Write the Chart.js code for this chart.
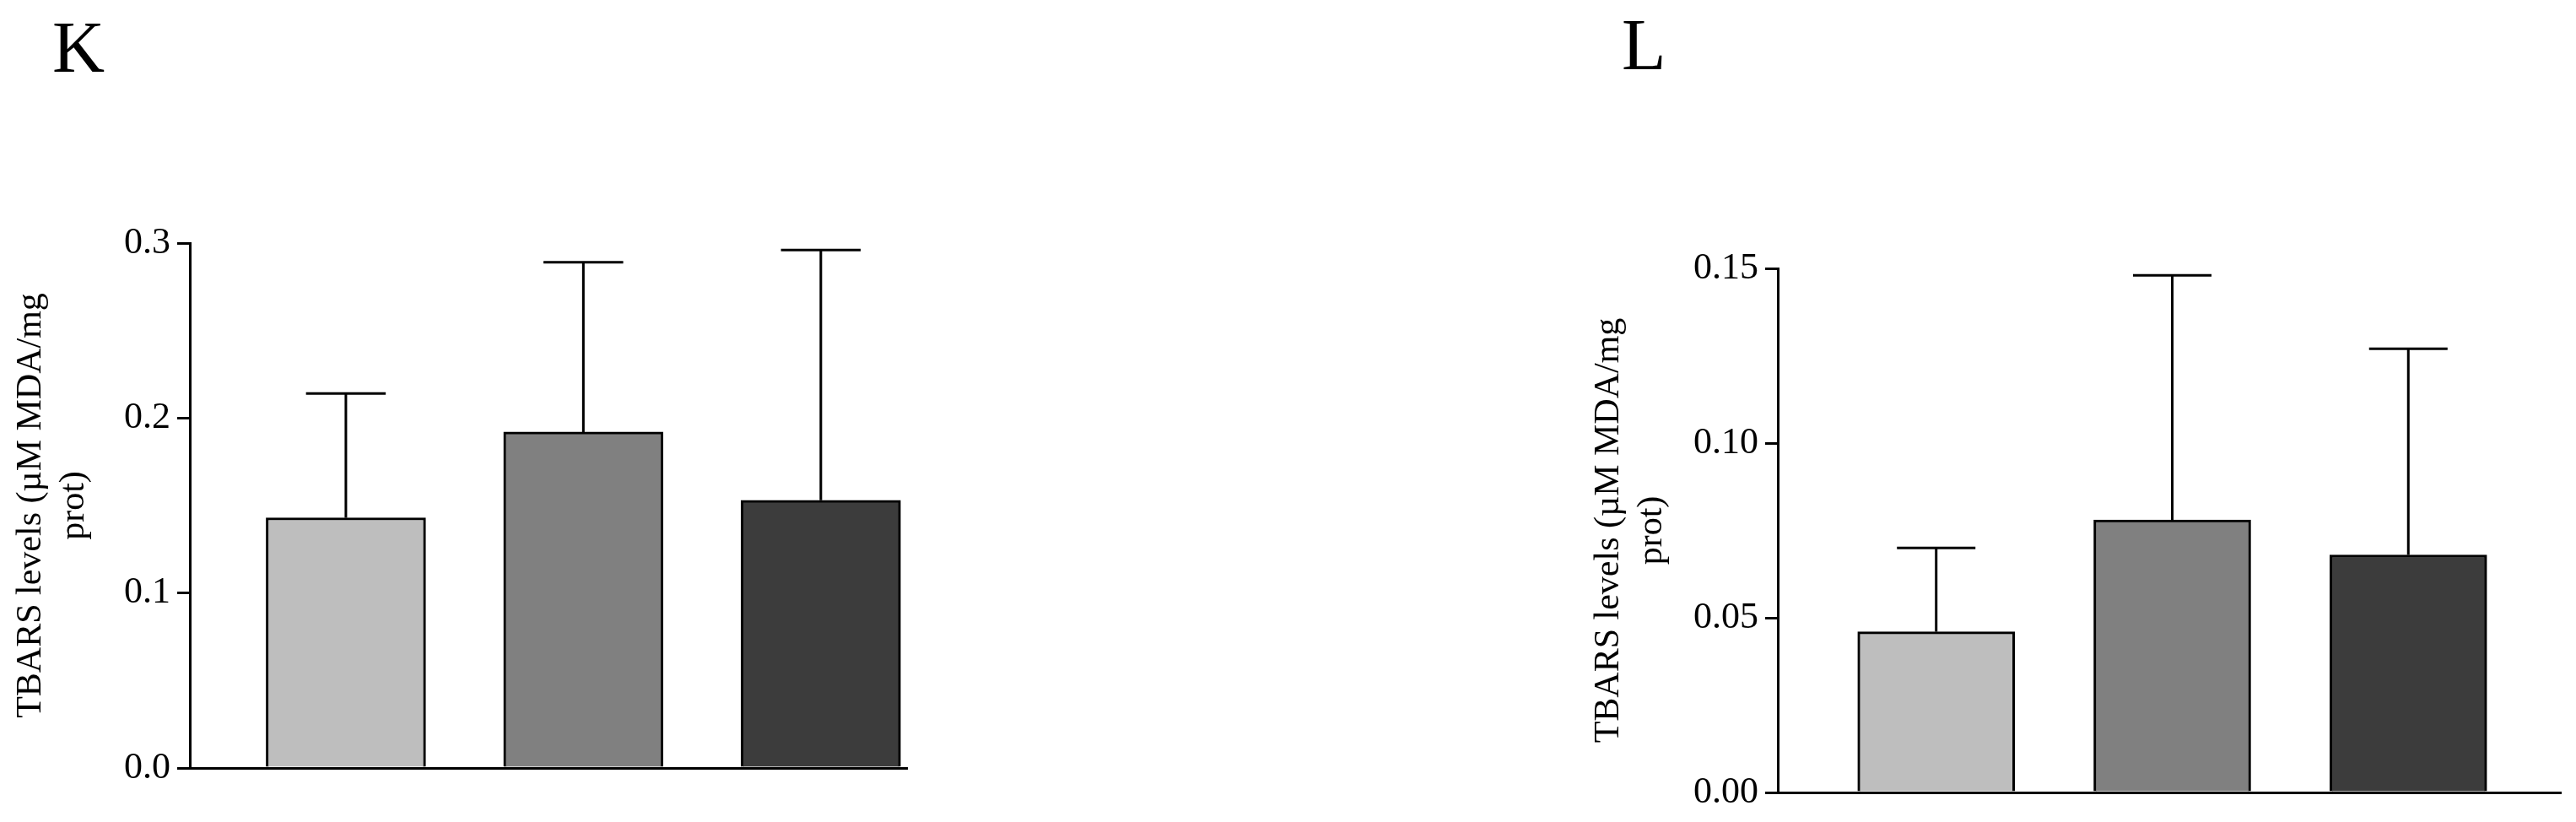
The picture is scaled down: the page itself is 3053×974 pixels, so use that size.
<!DOCTYPE html>
<html>
<head>
<meta charset="utf-8">
<script src="https://cdn.jsdelivr.net/npm/chart.js@4"></script>
<style>
  body { margin: 0; background: #fff; width: 3053px; height: 974px; position: relative; overflow: hidden; }
  .panel { position: absolute; top: 0; }
  .letter { position: absolute; font-family: "Liberation Serif", serif; font-size: 86px; line-height: 1; color: #000; }
</style>
</head>
<body>
<div class="letter" style="left:62px;top:13px;">K</div>
<div class="letter" style="left:1922px;top:10px;">L</div>
<div class="panel" style="left:0;width:1100px;height:974px;"><canvas id="chartK"></canvas></div>
<div class="panel" style="left:1800px;width:1253px;height:974px;"><canvas id="chartL"></canvas></div>
<script>
// Panel K values
var groupsK = [1, 2, 3];
var meansK = [0.143, 0.192, 0.153];
var errorsK = [0.071, 0.097, 0.143];

// Panel L values
var groupsL = [1, 2, 3];
var meansL = [0.046, 0.078, 0.068];
var errorsL = [0.024, 0.070, 0.059];

var barColors = ['#bebebe', '#808080', '#3c3c3c'];
var yTitle = ['TBARS levels (\u00b5M MDA/mg', 'prot)'];

// Draws upward error bars with a cap, from the errors array of the chart
var errorBarPlugin = {
    id: 'errorBars',
    afterDatasetsDraw: function(chart) {
        var ctx = chart.ctx;
        var meta = chart.getDatasetMeta(0);
        var errs = chart.options.plugins.errorBars.errors;
        var vals = chart.data.datasets[0].data;
        ctx.save();
        ctx.strokeStyle = '#000';
        ctx.lineWidth = 3;
        meta.data.forEach(function(bar, i) {
            var yTop = chart.scales.y.getPixelForValue(vals[i].y + errs[i]);
            var half = bar.width * 0.25;
            ctx.beginPath();
            ctx.moveTo(bar.x, bar.y);
            ctx.lineTo(bar.x, yTop);
            ctx.moveTo(bar.x - half, yTop);
            ctx.lineTo(bar.x + half, yTop);
            ctx.stroke();
        });
        ctx.restore();
    }
};

function makeChart(id, groups, means, errors, opts) {
    var ctx = document.getElementById(id).getContext('2d');
    return new Chart(ctx, {
        type: 'bar',
        data: {
            datasets: [{
                data: groups.map(function(g, i) { return { x: g, y: means[i] }; }),
                backgroundColor: barColors,
                borderColor: '#000',
                borderWidth: 3,
                barThickness: opts.barWidth
            }]
        },
        options: {
            responsive: true,
            maintainAspectRatio: false,
            animation: false,
            layout: { padding: { top: opts.top, bottom: opts.bottom, right: opts.right, left: 0 } },
            plugins: {
                legend: { display: false },
                tooltip: { enabled: false },
                errorBars: { errors: errors }
            },
            scales: {
                x: {
                    type: 'linear',
                    offset: false,
                    min: opts.xMin,
                    max: opts.xMax,
                    ticks: { display: false },
                    grid: { display: false },
                    border: { color: '#000', width: 3 },
                    afterFit: function(s) { s.height = 0; }
                },
                y: {
                    min: 0,
                    max: opts.yMax,
                    ticks: {
                        stepSize: opts.step,
                        color: '#000',
                        padding: 8,
                        font: { family: 'Liberation Serif', size: 44 },
                        callback: function(v) { return v.toFixed(opts.decimals); }
                    },
                    grid: { drawOnChartArea: false, drawTicks: true, tickLength: 15, color: '#000', lineWidth: 3 },
                    border: { color: '#000', width: 3 },
                    title: {
                        display: true,
                        text: yTitle,
                        color: '#000',
                        font: { family: 'Liberation Serif', size: 42 },
                        padding: { top: opts.titlePad, bottom: 0 }
                    },
                    afterFit: function(s) { s.width = opts.axisX; }
                }
            }
        },
        plugins: [errorBarPlugin]
    });
}

makeChart('chartK', groupsK, meansK, errorsK, {
    top: 288, bottom: 64, right: 25, axisX: 225,
    xMin: 0.343, xMax: 3.363, barWidth: 189,
    yMax: 0.3, step: 0.1, decimals: 1, titlePad: 12
});

makeChart('chartL', groupsL, meansL, errorsL, {
    top: 318, bottom: 35, right: 18, axisX: 307,
    xMin: 0.329, xMax: 3.646, barWidth: 186,
    yMax: 0.15, step: 0.05, decimals: 2, titlePad: 82
});
</script>
</body>
</html>
